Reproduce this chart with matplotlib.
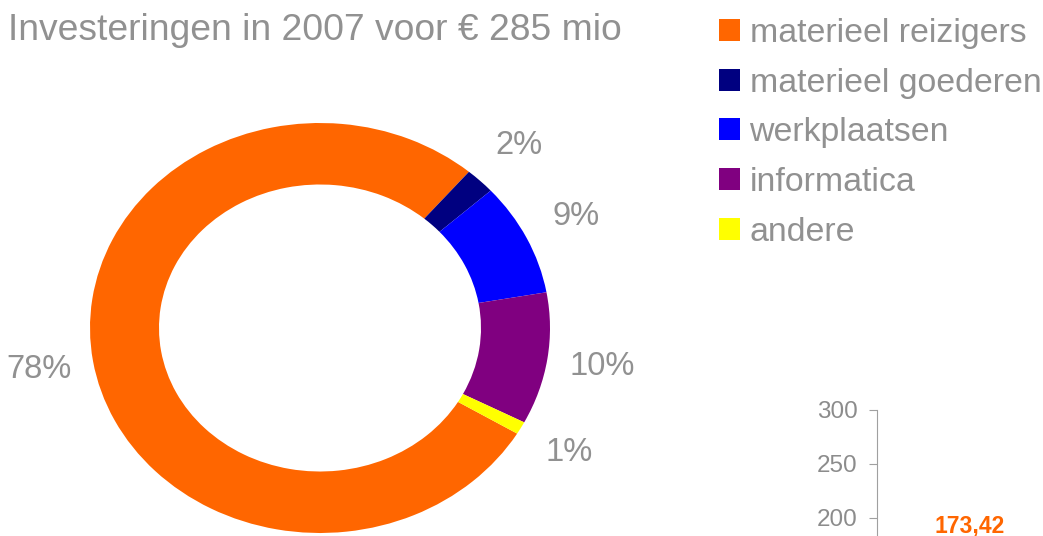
import matplotlib
matplotlib.use("Agg")
import matplotlib.pyplot as plt

plt.rcParams['font.family'] = ['Liberation Sans', 'DejaVu Sans']

# share of 2007 investments (%)
categories = ['materieel reizigers', 'materieel goederen', 'werkplaatsen',
              'informatica', 'andere']
shares = [77.6, 2.1, 8.9, 10.4, 1.0]
colors = ['#FF6600', '#000080', '#0000FF', '#800080', '#FFFF00']
title = 'Investeringen in 2007 voor € 285 mio'

# second (cropped) chart at the bottom right
bar_value = 173.42
y_ticks = [200, 250, 300]

gray = '#919191'
W, H = 1043, 536
fig = plt.figure(figsize=(W / 100, H / 100), dpi=100)

# donut
ax = fig.add_axes([90 / W, 3 / H, 460 / W, 410 / H])
wedges, _, pct_texts = ax.pie(
    shares, colors=colors, startangle=-31, counterclock=False,
    wedgeprops=dict(width=0.3, linewidth=0),
    autopct='%.0f%%', pctdistance=1.24,
    textprops=dict(color=gray, fontsize=23.5))
ax.set_aspect('auto')
ax.set_xlim(-1, 1)
ax.set_ylim(-1, 1)
ax.axis('off')

fig.text(8 / W, 1 - 31 / H, title, color=gray, fontsize=26.8,
         ha='left', va='center')

leg = fig.legend(wedges, categories, loc='upper left',
                 bbox_to_anchor=(719 / W, 1 - 18 / H),
                 frameon=False, fontsize=24.4, borderpad=0, borderaxespad=0,
                 handlelength=0.62, handleheight=0.62, handletextpad=0.28,
                 labelspacing=0.55)
for t in leg.get_texts():
    t.set_color(gray)

# small bar axis, mostly outside the picture
ax2 = fig.add_axes([877 / W, 0, (W - 877) / W, (H - 410) / H])
ax2.bar([0], [bar_value], width=0.8, color='#FF6600')
ax2.set_ylim(300 - (H - 410) / 1.08, 300)
ax2.set_xlim(-1, 0.8)
ax2.set_yticks(y_ticks)
ax2.tick_params(axis='y', colors='#8c8c8c', labelsize=17.5, length=6,
                direction='out', pad=8)
ax2.tick_params(axis='y', which='major', color='#a0a0a0')
ax2.set_xticks([])
for side in ['top', 'right', 'bottom']:
    ax2.spines[side].set_visible(False)
ax2.spines['left'].set_color('#a0a0a0')
ax2.patch.set_alpha(0)
ax2.annotate(f'{bar_value:.2f}'.replace('.', ','), xy=(0, bar_value),
             xytext=(0, 10.5), textcoords='offset points',
             ha='center', va='baseline', color='#FF6600',
             fontsize=16.5, fontweight='bold', annotation_clip=False)

fig.savefig('out.png', dpi=100)
